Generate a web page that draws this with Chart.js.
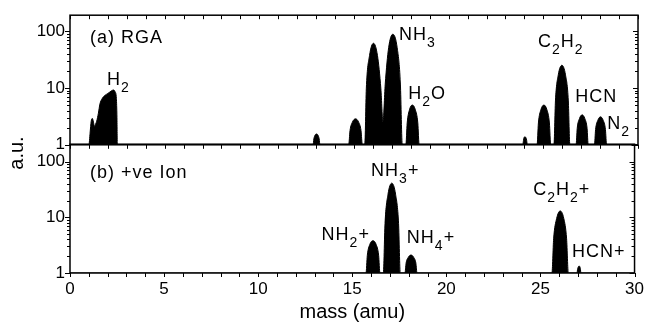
<!DOCTYPE html>
<html>
<head>
<meta charset="utf-8">
<script src="https://cdn.jsdelivr.net/npm/chart.js@4"></script>
<style>
  body { margin: 0; background: #fff; }
  #wrap { position: relative; width: 650px; height: 326px; }
  canvas { position: absolute; left: 0; }
  #top { top: 0; }
  #bottom { top: 129px; }
</style>
</head>
<body>
<div id="wrap">
  <canvas id="top" width="650" height="160"></canvas>
  <canvas id="bottom" width="650" height="197"></canvas>
</div>
<script>
// (a) RGA trace (mass in amu, signal in a.u.)
const rgaMass = [
  0,
  1.0, 1.06, 1.12, 1.18, 1.24, 1.29, 1.35, 1.41, 1.5, 1.58, 1.7, 1.85, 2.0, 2.11, 2.22, 2.29, 2.38, 2.45, 2.48, 2.5,
  12.84, 12.88, 12.94, 13.02, 13.1, 13.16, 13.2,
  14.72, 14.79, 14.92, 15.08, 15.24, 15.37, 15.44,
  15.57, 15.65, 15.82, 16.03, 16.24, 16.42, 16.53,
  16.65, 16.83, 17.05, 17.28, 17.45, 17.55,
  17.74, 17.81, 17.93, 18.08, 18.24, 18.37, 18.44,
  23.92, 23.95, 23.98, 24.03, 24.08, 24.12, 24.15,
  24.67, 24.74, 24.87, 25.03, 25.19, 25.32, 25.39,
  25.56, 25.64, 25.79, 25.98, 26.17, 26.32, 26.4,
  26.73, 26.79, 26.91, 27.05, 27.19, 27.31, 27.37,
  27.7, 27.76, 27.88, 28.02, 28.16, 28.28, 28.34,
  30
];
const rgaSignal = [
  1,
  1, 1.6, 2.6, 2.9, 2.5, 2.1, 2.3, 2.6, 3.6, 5.2, 6.5, 7.4, 8.0, 8.5, 9.0, 9.2, 8.6, 6.5, 3.0, 1,
  1, 1.27, 1.47, 1.55, 1.47, 1.27, 1,
  1, 1.78, 2.52, 2.86, 2.52, 1.78, 1,
  1, 9.6, 37, 61, 37, 9.6, 2.5,
  11.7, 51, 88, 51, 11.7, 1,
  1, 2.42, 4.12, 5, 4.12, 2.42, 1,
  1, 1.19, 1.33, 1.38, 1.33, 1.19, 1,
  1, 2.42, 4.12, 5, 4.12, 2.42, 1,
  1, 5.9, 17, 25, 17, 5.9, 1,
  1, 1.95, 2.9, 3.36, 2.9, 1.95, 1,
  1, 1.86, 2.7, 3.1, 2.7, 1.86, 1,
  1
];

// (b) positive ion trace
const ionMass = [
  0,
  15.73, 15.8, 15.93, 16.1, 16.27, 16.4, 16.47,
  16.65, 16.74, 16.9, 17.1, 17.3, 17.46, 17.55,
  17.8, 17.86, 17.98, 18.12, 18.26, 18.38, 18.44,
  25.61, 25.7, 25.86, 26.05, 26.24, 26.39, 26.48,
  26.94, 26.98, 27.02, 27.05, 27.09, 27.12, 27.15,
  30
];
const ionSignal = [
  1,
  1, 2.08, 3.24, 3.8, 3.24, 2.08, 1,
  1, 7.7, 26, 41, 26, 7.7, 1,
  1, 1.5, 1.92, 2.1, 1.92, 1.5, 1,
  1, 4.1, 9.5, 13, 9.5, 4.1, 1,
  1, 1.2, 1.3, 1.34, 1.3, 1.2, 1,
  1
];

const yTickLabels = [1, 10, 100];
const xMin = 0, xMax = 30, xStep = 5;

// peak labels (digits are drawn as subscripts), anchored in data units
const rgaNotes = [
  { text: '(a) RGA', mass: 1.06, value: 61 },
  { text: 'H2', mass: 1.95, value: 11.3 },
  { text: 'NH3', mass: 17.38, value: 69 },
  { text: 'H2O', mass: 17.86, value: 6.4 },
  { text: 'C2H2', mass: 24.72, value: 52 },
  { text: 'HCN', mass: 26.68, value: 5.7 },
  { text: 'N2', mass: 28.37, value: 1.91 }
];
const ionNotes = [
  { text: '(b) +ve Ion', mass: 1.06, value: 50 },
  { text: 'NH2+', mass: 13.37, value: 3.88 },
  { text: 'NH3+', mass: 16.0, value: 54 },
  { text: 'NH4+', mass: 17.9, value: 3.43 },
  { text: 'C2H2+', mass: 24.62, value: 24.7 },
  { text: 'HCN+', mass: 26.68, value: 1.93 }
];

const FONT = '"Liberation Sans", Arial, Helvetica, sans-serif';

function drawRich(ctx, text, x, y, size) {
  let cx = x;
  ctx.letterSpacing = '1px';
  for (const ch of text) {
    const sub = /[0-9]/.test(ch);
    const s = sub ? Math.round(size * 0.8) : size;
    ctx.font = s + 'px ' + FONT;
    ctx.fillText(ch, cx, sub ? y + size * 0.38 : y);
    cx += ctx.measureText(ch).width;
  }
  ctx.letterSpacing = '0px';
}

const framePlugin = {
  id: 'frame',
  afterDraw(chart, args, opts) {
    const { ctx, chartArea: a } = chart;
    const x = chart.scales.x, y = chart.scales.y;
    ctx.save();
    ctx.strokeStyle = '#000';
    ctx.fillStyle = '#000';
    ctx.lineWidth = 1.5;
    ctx.strokeRect(a.left, a.top, a.right - a.left, a.bottom - a.top);

    ctx.lineWidth = 1;
    ctx.beginPath();
    for (let m = xMin; m <= xMax; m++) {
      const px = Math.round(x.getPixelForValue(m)) + 0.5;
      if (opts.topTicks) { ctx.moveTo(px, a.top); ctx.lineTo(px, a.top + 4); }
      ctx.moveTo(px, a.bottom); ctx.lineTo(px, a.bottom + 4);
    }
    for (let d = 1; d <= y.max; d *= 10) {
      for (let k = 1; k <= 9; k++) {
        const v = k * d;
        if (v > y.max) break;
        const py = Math.round(y.getPixelForValue(v)) + 0.5;
        const len = k === 1 ? 5 : 3;
        ctx.moveTo(a.left, py); ctx.lineTo(a.left - len, py);
        ctx.moveTo(a.right, py); ctx.lineTo(a.right - len, py);
      }
    }
    ctx.stroke();

    ctx.textAlign = 'left';
    ctx.textBaseline = 'alphabetic';
    for (const n of opts.notes) {
      drawRich(ctx, n.text, x.getPixelForValue(n.mass), y.getPixelForValue(n.value), 18);
    }

    if (opts.yTitle) {
      ctx.translate(17, 24);
      ctx.rotate(-Math.PI / 2);
      ctx.textAlign = 'center';
      ctx.textBaseline = 'middle';
      ctx.font = '20px ' + FONT;
      ctx.fillText(opts.yTitle, 0, 0);
    }
    ctx.restore();
  }
};

function makeChart(id, mass, signal, yMax, notes, extra) {
  const points = mass.map((m, i) => ({ x: m, y: signal[i] }));
  return new Chart(document.getElementById(id), {
    type: 'line',
    data: {
      datasets: [{
        data: points,
        borderColor: '#000',
        backgroundColor: '#000',
        borderWidth: 1,
        pointRadius: 0,
        fill: 'start',
        cubicInterpolationMode: 'monotone'
      }]
    },
    options: {
      responsive: false,
      animation: false,
      layout: { padding: extra.padding },
      plugins: {
        legend: { display: false },
        tooltip: { enabled: false },
        frame: { notes: notes, topTicks: extra.topTicks, yTitle: extra.yTitle }
      },
      scales: {
        x: {
          type: 'linear',
          min: xMin,
          max: xMax,
          display: extra.showX,
          grid: { display: false, drawTicks: false },
          border: { display: false },
          ticks: {
            stepSize: xStep,
            padding: 6,
            color: '#000',
            font: { family: FONT, size: 17 }
          },
          title: {
            display: extra.showX,
            text: 'mass (amu)',
            color: '#000',
            font: { family: FONT, size: 20 },
            padding: { top: 0, bottom: 2 }
          },
          afterFit(s) { s.height = extra.showX ? 53 : 0; }
        },
        y: {
          type: 'logarithmic',
          min: 1,
          max: yMax,
          grid: { display: false, drawTicks: false },
          border: { display: false },
          ticks: {
            autoSkip: false,
            padding: 5,
            color: '#000',
            font: { family: FONT, size: 17 },
            callback: v => yTickLabels.some(t => Math.abs(t - v) < 1e-6) ? String(v) : ''
          },
          afterFit(s) { s.width = 70; }
        }
      }
    },
    plugins: [framePlugin]
  });
}

makeChart('top', rgaMass, rgaSignal, 190, rgaNotes, {
  padding: { left: 0, right: 12, top: 13, bottom: 7 },
  showX: false,
  topTicks: true
});
makeChart('bottom', ionMass, ionSignal, 205, ionNotes, {
  padding: { left: 0, right: 12, top: 6, bottom: 0 },
  showX: true,
  topTicks: false,
  yTitle: 'a.u.'
});
</script>
</body>
</html>
